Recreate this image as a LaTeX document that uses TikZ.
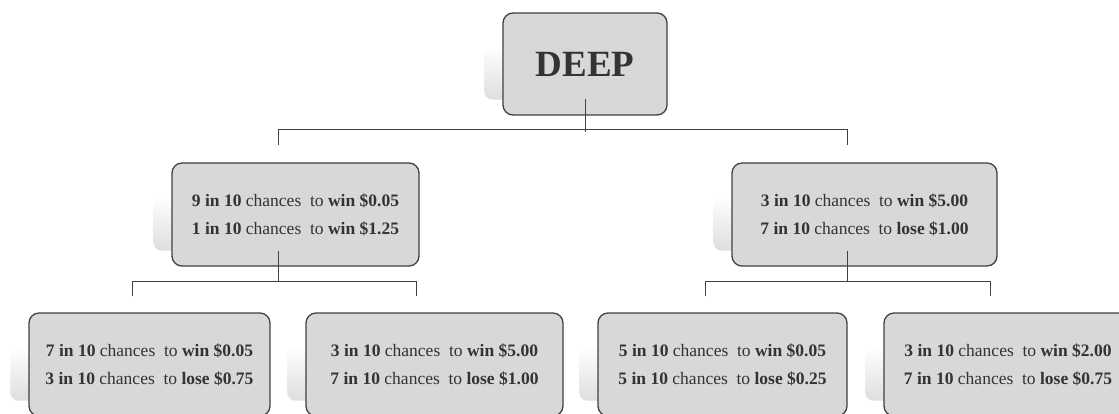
\documentclass[tikz,border=0pt]{standalone}
\usepackage{fontspec}
\setmainfont{Liberation Serif}
\usetikzlibrary{calc,backgrounds}
\definecolor{boxfill}{HTML}{D8D8D8}
\definecolor{boxline}{HTML}{404040}
\definecolor{txt}{HTML}{333333}
\definecolor{shad}{HTML}{DEDEDE}
\tikzset{
  x=1pt, y=-1pt,
  box/.style={draw=boxline, line width=1.3pt, fill=boxfill, rounded corners=10pt,
    inner sep=0pt, text=txt, align=center,
    font=\fontsize{17.5}{28}\selectfont},
  conn/.style={draw=boxline, line width=1pt},
}
\newcommand{\shadowfor}[1]{%
  \shade[top color=white, bottom color=shad, rounded corners=8pt]
    ($(#1.south west)+(-18pt,16pt)$) rectangle ($(#1.north east)+(-18pt,-34pt)$);}
\begin{document}
\begin{tikzpicture}
\useasboundingbox (0,0) rectangle (1119,414);
% nodes
\node[box, minimum width=164pt, minimum height=102pt,
      font=\fontsize{37}{40}\selectfont\bfseries] (deep) at (585,64) {DEEP};
\node[box, minimum width=247pt, minimum height=103pt] (L) at (295.5,214.5)
  {\textbf{9 in 10} chances\ \ to \textbf{win \$0.05}\\\textbf{1 in 10} chances\ \ to \textbf{win \$1.25}};
\node[box, minimum width=265pt, minimum height=103pt] (R) at (864.5,214.5)
  {\textbf{3 in 10} chances\ \ to \textbf{win \$5.00}\\\textbf{7 in 10} chances\ \ to \textbf{lose \$1.00}};
\node[box, minimum width=241pt, minimum height=103pt] (B1) at (149.5,364.5)
  {\textbf{7 in 10} chances\ \ to \textbf{win \$0.05}\\\textbf{3 in 10} chances\ \ to \textbf{lose \$0.75}};
\node[box, minimum width=257pt, minimum height=103pt] (B2) at (434.5,364.5)
  {\textbf{3 in 10} chances\ \ to \textbf{win \$5.00}\\\textbf{7 in 10} chances\ \ to \textbf{lose \$1.00}};
\node[box, minimum width=249pt, minimum height=103pt] (B3) at (722.5,364.5)
  {\textbf{5 in 10} chances\ \ to \textbf{win \$0.05}\\\textbf{5 in 10} chances\ \ to \textbf{lose \$0.25}};
\node[box, minimum width=248pt, minimum height=103pt] (B4) at (1008,364.5)
  {\textbf{3 in 10} chances\ \ to \textbf{win \$2.00}\\\textbf{7 in 10} chances\ \ to \textbf{lose \$0.75}};
% shadows (behind)
\begin{scope}[on background layer]
\shadowfor{deep}
\shadowfor{L}
\shadowfor{R}
\shadowfor{B1}
\shadowfor{B2}
\shadowfor{B3}
\shadowfor{B4}
\end{scope}
% connectors
\coordinate (t1) at (278,145);
\coordinate (t2) at (847,145);
\coordinate (u1) at (132,296);
\coordinate (u2) at (416,296);
\coordinate (v1) at (705,296);
\coordinate (v2) at (990,296);
\draw[conn] ($(deep.south)+(0,17pt)$) -- ++(0,-33pt);
\draw[conn] (t1) -- ++(0,15pt) -| (t2);
\draw[conn] ($(L.south)+(-17.5pt,16pt)$) -- ++(0,-31pt);
\draw[conn] (u1) -- ++(0,15pt) -| (u2);
\draw[conn] ($(R.south)+(-17.5pt,16pt)$) -- ++(0,-31pt);
\draw[conn] (v1) -- ++(0,15pt) -| (v2);
\end{tikzpicture}
\end{document}
